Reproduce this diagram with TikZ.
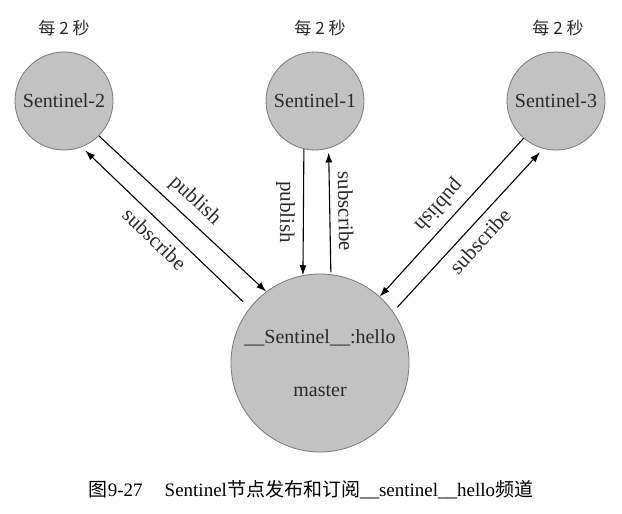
\documentclass[tikz,border=0pt]{standalone}
\usepackage{fontspec}
\setmainfont{Liberation Serif}
\newfontfamily\cjk{Noto Sans CJK SC}
\usetikzlibrary{arrows.meta}

\definecolor{nodefill}{HTML}{C2C2C2}
\definecolor{nodeedge}{HTML}{7A7A7A}
\definecolor{labeltext}{HTML}{2A2A2A}

\begin{document}
\begin{tikzpicture}[
    x=1pt, y=-1pt,
    >={Latex[length=10pt,width=7pt]},
    sentinel/.style={
        circle,
        draw=nodeedge,
        fill=nodefill,
        line width=0.8pt,
        minimum size=98pt,
        inner sep=0pt,
        text=labeltext,
        font=\fontsize{20}{24}\selectfont
    },
    masternode/.style={
        sentinel,
        minimum size=178pt,
        align=center
    },
    every2s/.style={
        font=\cjk\fontsize{17}{20}\selectfont,
        text=labeltext
    },
    link/.style={
        ->,
        line width=1.1pt,
        black
    },
    linklabel/.style={
        midway,
        sloped,
        allow upside down,
        inner sep=8pt,
        text=labeltext,
        font=\fontsize{21}{25}\selectfont
    }
]

% Fondo y tamaño
\fill[white] (0,0) rectangle (622,514);
\useasboundingbox (0,0) rectangle (622,514);

% Sentinels
\node[sentinel] (s2) at (64,101) {Sentinel-2};
\node[sentinel] (s1) at (315,101) {Sentinel-1};
\node[sentinel] (s3) at (556,101) {Sentinel-3};

% Cada 2 segundos
\node[every2s] (t2) at (64,28) {每 2 秒};
\node[every2s] (t1) at (320,28) {每 2 秒};
\node[every2s] (t3) at (558,28) {每 2 秒};

% Master
\node[masternode] (m) at (320,363) {\_\_Sentinel\_\_:hello\\[29pt] master};

% Publish
\draw[link] (s2.-45) -- (m.127.5) node[linklabel, above] {publish};
\draw[link] (s1.-103) -- (m.101.5) node[linklabel, below] {publish};
\draw[link] (s3.-131) -- (m.48.5) node[linklabel, below] {publish};

% Subscribe
\draw[link, <-, shorten <=5pt, shorten >=9pt] (s2.-69) -- (m.142) node[linklabel, below] {subscribe};
\draw[link, <-, shorten <=4pt, shorten >=2pt] (s1.-74) -- (m.83) node[linklabel, above] {subscribe};
\draw[link, shorten <=6pt, shorten >=5pt] (m.35) -- (s3.-105) node[linklabel, below] {subscribe};

% Pie de figura
\node[font=\fontsize{19}{22}\selectfont] (caption) at (311,490)
    {{\cjk 图}9-27\hspace{22pt}Sentinel{\cjk 节点发布和订阅}\_\_sentinel\_\_hello{\cjk 频道}};

\end{tikzpicture}
\end{document}
